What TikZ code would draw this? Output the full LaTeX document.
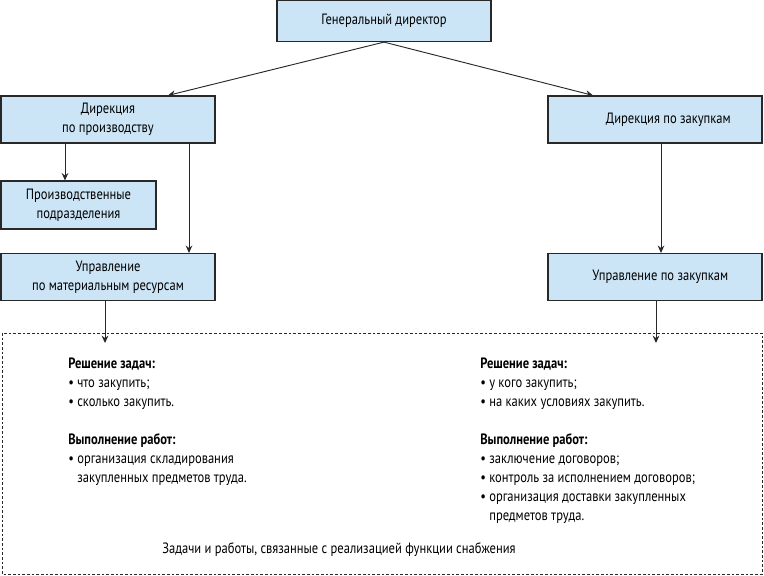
\documentclass[tikz,border=0pt]{standalone}
\usepackage{fontspec}
\setmainfont{PT Sans}[FakeStretch=0.84]
\usetikzlibrary{positioning, arrows.meta}
\definecolor{unitblue}{RGB}{204,229,246}
\definecolor{linegray}{RGB}{40,40,40}

\begin{document}
\begin{tikzpicture}[x=0.75pt, y=-0.75pt, >={Stealth[length=5.5pt, width=5pt]},
    font=\fontsize{11.2}{14.25}\selectfont,
    unit/.style={draw=linegray, line width=0.9pt, fill=unitblue, align=center, inner sep=1pt},
    tasks/.style={align=left, anchor=north west, inner sep=0pt}]

\useasboundingbox (0,0) rectangle (764,575);

% structural units
\node[unit, minimum width=160.5pt, minimum height=30.75pt] (gd) at (384,21) {Генеральный директор};
\node[unit, minimum width=160.5pt, minimum height=35.25pt] (dpr) at (108,119.5) {Дирекция\\по производству};
\node[unit, minimum width=116.25pt, minimum height=36pt] (pdz) at (78.5,205) {Производственные\\подразделения};
\node[unit, minimum width=160.5pt, minimum height=35.25pt] (umr) at (108,277) {Управление\\по материальным ресурсам};
\node[unit, minimum width=160.5pt, minimum height=35.25pt] (dzk) at (655,119.5) {\hspace{20pt}Дирекция по закупкам};
\node[unit, minimum width=160.5pt, minimum height=35.25pt] (uzk) at (655,277) {\hspace{8pt}Управление по закупкам};

% area of supply functions
\draw[linegray, dashed, dash pattern=on 2pt off 1.5pt, line width=0.7pt] (2,333) rectangle (762,574);
\coordinate (fl) at (105,343);
\coordinate (fr) at (656,343);

\node[tasks] (lt) at (68,358) {\textbf{Решение задач:}\\
  • что закупить;\\
  • сколько закупить.\\[14.25pt]
  \textbf{Выполнение работ:}\\
  • организация складирования\\
  \hphantom{• }закупленных предметов труда.};
\node[tasks] (rt) at (480,358) {\textbf{Решение задач:}\\
  • у кого закупить;\\
  • на каких условиях закупить.\\[14.25pt]
  \textbf{Выполнение работ:}\\
  • заключение договоров;\\
  • контроль за исполнением договоров;\\
  • организация доставки закупленных\\
  \hphantom{• }предметов труда.};
\node[anchor=west, inner sep=0pt] (cap) at (162,550) {Задачи и работы, связанные с реализацией функции снабжения};

\path[->, linegray, line width=0.7pt]
(gd.south) edge (dpr.north -| 168,0)
(gd.south) edge (dzk.north -| 593,0)
(dpr.south -| 65,0) edge (pdz.north -| 65,0)
(dpr.south -| 189,0) edge (umr.north -| 189,0)
(dzk.south -| 661,0) edge (uzk.north -| 661,0)
(umr.south -| 105,0) edge (fl)
(uzk.south -| 656,0) edge (fr);

\end{tikzpicture}
\end{document}
